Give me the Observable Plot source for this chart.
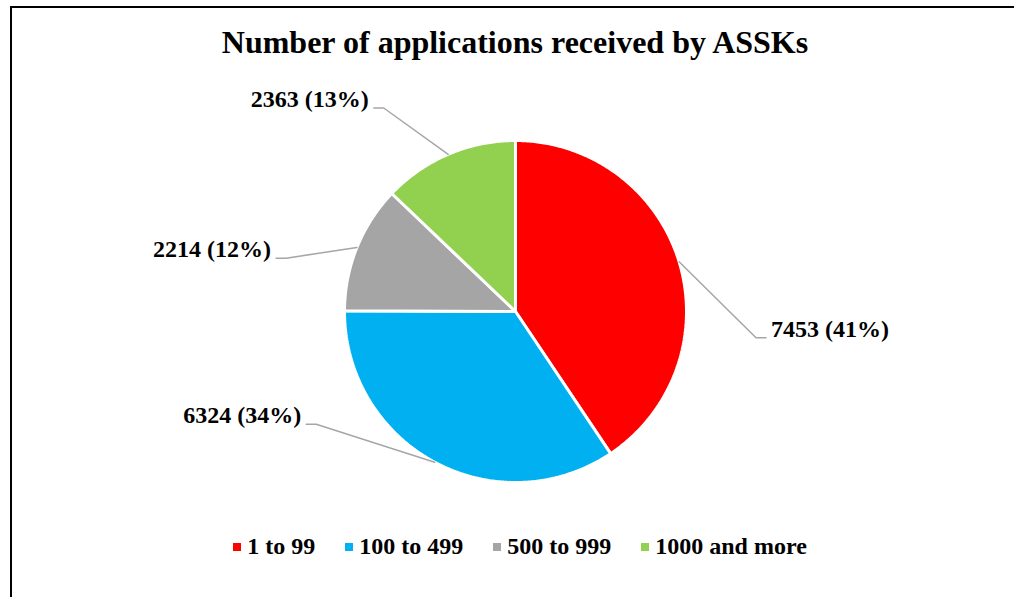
<!DOCTYPE html>
<html>
<head>
<meta charset="utf-8">
<script src="https://cdn.jsdelivr.net/npm/d3@7"></script>
<script src="https://cdn.jsdelivr.net/npm/@observablehq/plot@0.6"></script>
<style>
  html, body { margin: 0; padding: 0; background: #fff; }
  body { width: 1014px; height: 597px; position: relative; overflow: hidden; font-family: "Liberation Serif", "Times New Roman", serif; }
  #frame { position: absolute; left: 10px; top: 6px; width: 1010px; height: 600px; border-left: 2px solid #000; border-top: 2px solid #000; }
  #chart { position: absolute; left: 0; top: 0; }
  #title { position: absolute; left: 0; width: 1030px; top: 22px; text-align: center; font-weight: bold; font-size: 32px; line-height: 40px; color: #000; }
  #legend { position: absolute; left: 0; width: 1040px; top: 532px; display: flex; justify-content: center; gap: 30px; font-weight: bold; font-size: 24px; line-height: 28px; color: #000; }
  #legend .item { display: flex; align-items: center; }
  #legend .sw { width: 8px; height: 8px; margin-right: 6px; margin-top: 2px; }
</style>
</head>
<body>
<div id="frame"></div>
<div id="chart"></div>
<div id="title">Number of applications received by ASSKs</div>
<div id="legend"></div>
<script>
// ---- data ----
const categories = ["1 to 99", "100 to 499", "500 to 999", "1000 and more"];
const counts = [7453, 6324, 2214, 2363];
const percents = [41, 34, 12, 13];
const colors = ["#FF0000", "#00B0F0", "#A5A5A5", "#92D050"];

// ---- layout (pixels / radius units) ----
const W = 1014, H = 597;
const cx = 515, cy = 311, R = 171;
// outer end of each leader line, in radius units relative to centre (y up)
const labelEnds = [[1.465, -0.153], [-1.224, -0.659], [-1.40, 0.312], [-0.829, 1.19]];
const elbow = 10 / R, gap = 5 / R;

const data = categories.map((c, i) => ({cat: c, value: counts[i], pct: percents[i]}));
const arcs = d3.pie().sort(null).value(d => d.value)(data);

// slice polygons
const slicePts = [];
arcs.forEach(a => {
  const n = Math.max(4, Math.ceil((a.endAngle - a.startAngle) / 0.01));
  slicePts.push({cat: a.data.cat, x: 0, y: 0});
  for (let k = 0; k <= n; k++) {
    const t = a.startAngle + (a.endAngle - a.startAngle) * k / n;
    slicePts.push({cat: a.data.cat, x: Math.sin(t), y: Math.cos(t)});
  }
  slicePts.push({cat: a.data.cat, x: 0, y: 0});
});

// leader lines & labels
const leaderPts = [];
const labels = [];
arcs.forEach((a, i) => {
  const m = (a.startAngle + a.endAngle) / 2;
  const [ex, ey] = labelEnds[i];
  const right = ex > 0;
  const bx = right ? ex - elbow : ex + elbow;
  leaderPts.push({cat: a.data.cat, x: Math.sin(m), y: Math.cos(m)});
  leaderPts.push({cat: a.data.cat, x: bx, y: ey});
  leaderPts.push({cat: a.data.cat, x: ex, y: ey});
  labels.push({
    x: right ? ex + gap : ex - gap,
    y: ey,
    anchor: right ? "start" : "end",
    text: `${a.data.value} (${a.data.pct}%)`
  });
});

const textStyle = {x: "x", y: "y", text: "text", lineAnchor: "bottom", dy: -1, fontSize: 24, fontWeight: "bold", fontFamily: "Liberation Serif", fill: "#000"};

const plot = Plot.plot({
  width: W, height: H,
  margin: 0,
  x: {domain: [-cx / R, (W - cx) / R], range: [0, W], axis: null},
  y: {domain: [-(H - cy) / R, cy / R], range: [H, 0], axis: null},
  color: {domain: categories, range: colors},
  style: {background: "transparent"},
  marks: [
    Plot.line(slicePts, {x: "x", y: "y", z: "cat", fill: "cat", stroke: "white", strokeWidth: 3, strokeLinejoin: "miter", curve: "linear"}),
    Plot.line(leaderPts, {x: "x", y: "y", z: "cat", stroke: "#A6A6A6", strokeWidth: 1.5}),
    Plot.text(labels.filter(d => d.anchor === "start"), {...textStyle, textAnchor: "start"}),
    Plot.text(labels.filter(d => d.anchor === "end"), {...textStyle, textAnchor: "end"})
  ]
});
document.getElementById("chart").appendChild(plot);

const legend = document.getElementById("legend");
categories.forEach((c, i) => {
  const item = document.createElement("div");
  item.className = "item";
  const sw = document.createElement("span");
  sw.className = "sw";
  sw.style.background = colors[i];
  const tx = document.createElement("span");
  tx.textContent = c;
  item.appendChild(sw);
  item.appendChild(tx);
  legend.appendChild(item);
});
</script>
</body>
</html>
